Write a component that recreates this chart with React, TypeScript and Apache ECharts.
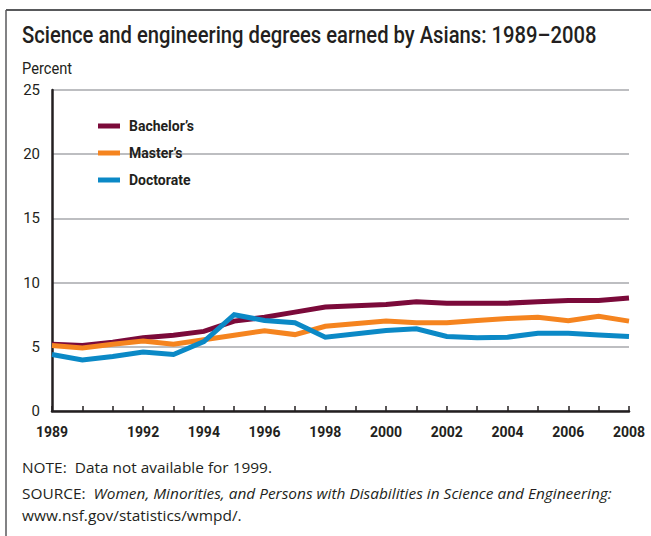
import React, { useEffect, useRef } from "react";
import * as echarts from "echarts";

const years = ["1989","1990","1991","1992","1993","1994","1995","1996","1997","1998","1999","2000","2001","2002","2003","2004","2005","2006","2007","2008"];
const shownYearLabels = ["1989","1992","1994","1996","1998","2000","2002","2004","2006","2008"];
const bachelors = [5.2,5.1,5.35,5.7,5.9,6.2,7.0,7.3,7.7,8.1,null,8.3,8.5,8.4,8.4,8.4,8.5,8.6,8.6,8.8];
const masters = [5.1,4.9,5.2,5.45,5.2,5.55,5.9,6.25,5.95,6.6,null,7.0,6.87,6.87,7.05,7.2,7.3,7.03,7.37,7.0];
const doctorate = [4.4,3.97,4.24,4.6,4.4,5.4,7.5,7.05,6.87,5.75,null,6.27,6.4,5.8,5.7,5.75,6.05,6.05,5.92,5.8];
const yTicks = [0,5,10,15,20,25];

const TITLE = "Science and engineering degrees earned by Asians: 1989–2008";
const NOTE = "NOTE:  Data not available for 1999.";
const SRC_A = "SOURCE:  ";
const SRC_B = "Women, Minorities, and Persons with Disabilities in Science and Engineering:";
const URL = "www.nsf.gov/statistics/wmpd/.";

const HEAD = "Roboto, 'Liberation Sans', sans-serif";
const BODY = "'Open Sans', 'Liberation Sans', sans-serif";
const INK = "#231f20";

function measure(text: string, font: string): number {
  const ctx = document.createElement("canvas").getContext("2d")!;
  ctx.font = font;
  return ctx.measureText(text).width;
}

export default function App() {
  const ref = useRef<HTMLDivElement>(null);
  useEffect(() => {
    const chart = echarts.init(ref.current!, null, { renderer: "svg" });
    const titleScale = 575 / measure(TITLE, "500 23px Roboto");
    const percentScale = 50 / measure("Percent", "17px Roboto");
    const srcW = measure(SRC_A, "14px 'Open Sans'") + measure(SRC_B, "italic 14px 'Open Sans'");
    const bodyScale = 590 / srcW;
    const mkSeries = (name: string, data: (number | null)[], color: string) => ({
      name,
      type: "line",
      data,
      connectNulls: true,
      symbol: "none",
      lineStyle: { width: 5, color, join: "miter" },
      itemStyle: { color },
    });
    chart.setOption({
      animation: false,
      backgroundColor: "#fff",
      legend: {
        orient: "vertical",
        left: 98,
        top: 119,
        padding: 0,
        itemWidth: 22,
        itemHeight: 5,
        itemGap: 13,
        icon: "rect",
        textStyle: { fontFamily: HEAD, fontSize: 14, fontWeight: "bold", color: INK, padding: [0, 0, 0, 4] },
        data: ["Bachelor’s", "Master’s", "Doctorate"],
      },
      grid: { left: 52, right: 22, top: 90, bottom: 125, containLabel: false },
      xAxis: {
        type: "category",
        data: years,
        boundaryGap: false,
        axisLine: { lineStyle: { color: INK, width: 2.5 } },
        axisTick: { inside: true, length: 5, interval: 0, lineStyle: { color: INK, width: 1.5 } },
        axisLabel: {
          interval: (_i: number, v: string) => shownYearLabels.includes(v),
          fontFamily: HEAD,
          fontWeight: "bold",
          fontSize: 14,
          color: INK,
          margin: 14,
        },
        splitLine: { show: false },
      },
      yAxis: {
        type: "value",
        min: yTicks[0],
        max: yTicks[yTicks.length - 1],
        interval: 5,
        axisLine: { show: true, lineStyle: { color: INK, width: 2.5 } },
        axisTick: { show: false },
        axisLabel: { fontFamily: HEAD, fontSize: 15, color: INK, margin: 12 },
        splitLine: { lineStyle: { color: "#a7a9ac", width: 1.5 } },
      },
      series: [
        mkSeries("Bachelor’s", bachelors, "#7b0a3a"),
        mkSeries("Master’s", masters, "#f5841f"),
        mkSeries("Doctorate", doctorate, "#0b89c6"),
      ],
      graphic: [
        { type: "line", shape: { x1: 6, y1: 10, x2: 651, y2: 10 }, style: { stroke: "#58595b", lineWidth: 2 } },
        { type: "line", shape: { x1: 6, y1: 10, x2: 6, y2: 536 }, style: { stroke: "#58595b", lineWidth: 1.5 } },
        {
          type: "text", x: 22, y: 35, scaleX: titleScale,
          style: { text: TITLE, fontFamily: "Roboto", fontSize: 23, fontWeight: 500, fill: INK, verticalAlign: "middle" },
        },
        {
          type: "text", x: 22, y: 68, scaleX: percentScale,
          style: { text: "Percent", fontFamily: "Roboto", fontSize: 17, fill: INK, verticalAlign: "middle" },
        },
        {
          type: "text", x: 22, y: 467, scaleX: bodyScale,
          style: { text: NOTE, fontFamily: BODY, fontSize: 14, fill: INK, verticalAlign: "middle" },
        },
        {
          type: "text", x: 22, y: 493, scaleX: bodyScale,
          style: {
            text: `{n|${SRC_A}}{i|${SRC_B}}`,
            verticalAlign: "middle",
            rich: {
              n: { fontFamily: BODY, fontSize: 14, fill: INK },
              i: { fontFamily: BODY, fontSize: 14, fontStyle: "italic", fill: INK },
            },
          },
        },
        {
          type: "text", x: 22, y: 515, scaleX: bodyScale,
          style: { text: URL, fontFamily: BODY, fontSize: 14, fill: INK, verticalAlign: "middle" },
        },
      ],
    });
    return () => chart.dispose();
  }, []);
  return <div ref={ref} style={{ width: 651, height: 536, position: "fixed", left: 0, top: 0 }} />;
}
